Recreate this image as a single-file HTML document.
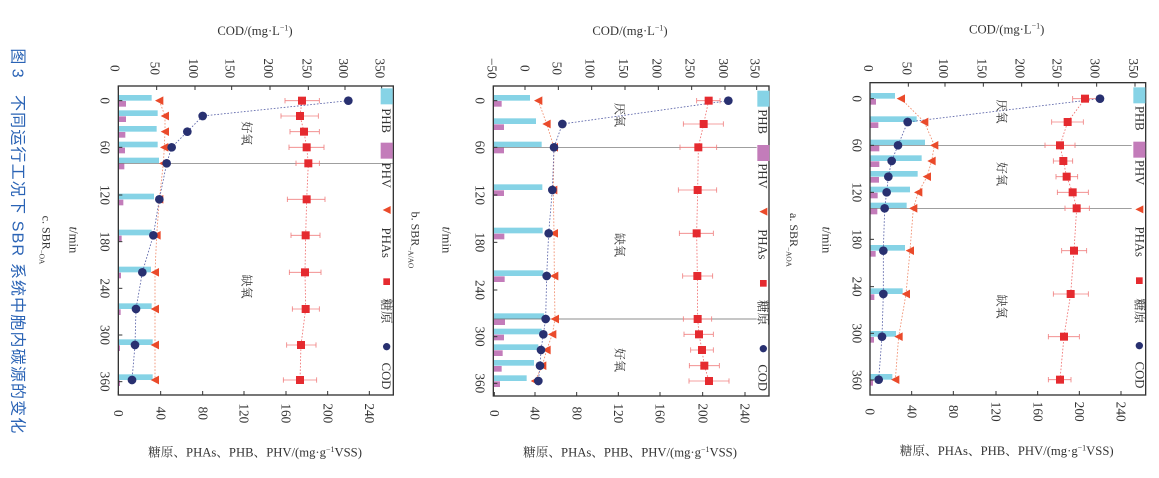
<!DOCTYPE html>
<html><head><meta charset="utf-8"><style>
html,body{margin:0;padding:0;background:#fff;}
svg{display:block;font-family:"Liberation Serif","Noto Serif CJK SC",serif;}
</style></head><body>
<svg id="s" width="1159" height="478" viewBox="0 0 1159 478" xmlns="http://www.w3.org/2000/svg">
<!-- Panel a -->
<g id="pa" transform="translate(780,0) scale(0.33333)" fill="#333" font-size="40">
<text x="680" y="100" text-anchor="middle" font-size="38">COD/(mg·L<tspan font-size="24" dy="-14">−1</tspan><tspan dy="14">)</tspan></text>
<text x="680" y="1365" text-anchor="middle" font-size="38">糖原、PHAs、PHB、PHV/(mg·g<tspan font-size="24" dy="-14">−1</tspan><tspan dy="14">VSS)</tspan></text>
<g text-anchor="middle">
<text transform="translate(252,205) rotate(90)">0</text><text transform="translate(367,205) rotate(90)">50</text><text transform="translate(477,205) rotate(90)">100</text><text transform="translate(592,205) rotate(90)">150</text><text transform="translate(707,205) rotate(90)">200</text><text transform="translate(817,205) rotate(90)">250</text><text transform="translate(932,205) rotate(90)">300</text><text transform="translate(1047,205) rotate(90)">350</text>
<text transform="translate(257,1235) rotate(90)">0</text><text transform="translate(382,1235) rotate(90)">40</text><text transform="translate(507,1235) rotate(90)">80</text><text transform="translate(635,1235) rotate(90)">120</text><text transform="translate(760,1235) rotate(90)">160</text><text transform="translate(885,1235) rotate(90)">200</text><text transform="translate(1010,1235) rotate(90)">240</text>
<text transform="translate(217,296) rotate(90)">0</text><text transform="translate(217,436) rotate(90)">60</text><text transform="translate(217,577) rotate(90)">120</text><text transform="translate(217,718) rotate(90)">180</text><text transform="translate(217,860) rotate(90)">240</text><text transform="translate(217,1000) rotate(90)">300</text><text transform="translate(217,1140) rotate(90)">360</text>
<text transform="translate(128,720) rotate(90)" font-size="38"><tspan font-style="italic">t</tspan>/min</text>
<text transform="translate(30,720) rotate(90)" font-size="36">a. SBR<tspan font-size="22" dy="10">−AOA</tspan></text>
<text transform="translate(652,335) rotate(90)" font-size="36">厌氧</text>
<text transform="translate(652,522) rotate(90)" font-size="36">好氧</text>
<text transform="translate(652,920) rotate(90)" font-size="36">缺氧</text>
</g>
<g text-anchor="start" font-size="38">
<text transform="translate(1066,318) rotate(90)">PHB</text><text transform="translate(1066,480) rotate(90)">PHV</text><text transform="translate(1066,680) rotate(90)">PHAs</text><text transform="translate(1066,895) rotate(90)">糖原</text><text transform="translate(1066,1085) rotate(90)">COD</text>
</g>
</g>
<!-- Panel b -->
<g id="pb" transform="translate(400,0) scale(0.33333)" fill="#333" font-size="40">
<text x="690" y="105" text-anchor="middle" font-size="38">COD/(mg·L<tspan font-size="24" dy="-14">−1</tspan><tspan dy="14">)</tspan></text>
<text x="690" y="1370" text-anchor="middle" font-size="38">糖原、PHAs、PHB、PHV/(mg·g<tspan font-size="24" dy="-14">−1</tspan><tspan dy="14">VSS)</tspan></text>
<g text-anchor="middle">
<text transform="translate(262,205) rotate(90)">−50</text><text transform="translate(362,205) rotate(90)">0</text><text transform="translate(457,205) rotate(90)">50</text><text transform="translate(557,205) rotate(90)">100</text><text transform="translate(657,205) rotate(90)">150</text><text transform="translate(757,205) rotate(90)">200</text><text transform="translate(857,205) rotate(90)">250</text><text transform="translate(957,205) rotate(90)">300</text><text transform="translate(1052,205) rotate(90)">350</text>
<text transform="translate(270,1240) rotate(90)">0</text><text transform="translate(392,1240) rotate(90)">40</text><text transform="translate(517,1240) rotate(90)">80</text><text transform="translate(642,1240) rotate(90)">120</text><text transform="translate(767,1240) rotate(90)">160</text><text transform="translate(895,1240) rotate(90)">200</text><text transform="translate(1022,1240) rotate(90)">240</text>
<text transform="translate(227,302) rotate(90)">0</text><text transform="translate(227,442) rotate(90)">60</text><text transform="translate(227,585) rotate(90)">120</text><text transform="translate(227,727) rotate(90)">180</text><text transform="translate(227,870) rotate(90)">240</text><text transform="translate(227,1010) rotate(90)">300</text><text transform="translate(227,1150) rotate(90)">360</text>
<text transform="translate(128,720) rotate(90)" font-size="38"><tspan font-style="italic">t</tspan>/min</text>
<text transform="translate(35,720) rotate(90)" font-size="36">b. SBR<tspan font-size="22" dy="10">−A/AO</tspan></text>
<text transform="translate(647,345) rotate(90)" font-size="36">厌氧</text>
<text transform="translate(647,735) rotate(90)" font-size="36">缺氧</text>
<text transform="translate(647,1080) rotate(90)" font-size="36">好氧</text>
</g>
<g text-anchor="start" font-size="38">
<text transform="translate(1076,328) rotate(90)">PHB</text><text transform="translate(1076,490) rotate(90)">PHV</text><text transform="translate(1076,688) rotate(90)">PHAs</text><text transform="translate(1076,900) rotate(90)">糖原</text><text transform="translate(1076,1093) rotate(90)">COD</text>
</g>
</g>
<!-- Panel c -->
<g id="pc" transform="translate(0,0) scale(0.33333)" fill="#333" font-size="40">
<text x="765" y="105" text-anchor="middle" font-size="38">COD/(mg·L<tspan font-size="24" dy="-14">−1</tspan><tspan dy="14">)</tspan></text>
<text x="765" y="1370" text-anchor="middle" font-size="38">糖原、PHAs、PHB、PHV/(mg·g<tspan font-size="24" dy="-14">−1</tspan><tspan dy="14">VSS)</tspan></text>
<g text-anchor="middle">
<text transform="translate(332,205) rotate(90)">0</text><text transform="translate(452,205) rotate(90)">50</text><text transform="translate(567,205) rotate(90)">100</text><text transform="translate(677,205) rotate(90)">150</text><text transform="translate(792,205) rotate(90)">200</text><text transform="translate(907,205) rotate(90)">250</text><text transform="translate(1017,205) rotate(90)">300</text><text transform="translate(1127,205) rotate(90)">350</text>
<text transform="translate(342,1240) rotate(90)">0</text><text transform="translate(469,1240) rotate(90)">40</text><text transform="translate(595,1240) rotate(90)">80</text><text transform="translate(719,1240) rotate(90)">120</text><text transform="translate(845,1240) rotate(90)">160</text><text transform="translate(970,1240) rotate(90)">200</text><text transform="translate(1095,1240) rotate(90)">240</text>
<text transform="translate(302,302) rotate(90)">0</text><text transform="translate(302,442) rotate(90)">60</text><text transform="translate(302,585) rotate(90)">120</text><text transform="translate(302,725) rotate(90)">180</text><text transform="translate(302,865) rotate(90)">240</text><text transform="translate(302,1005) rotate(90)">300</text><text transform="translate(302,1145) rotate(90)">360</text>
<text transform="translate(208,720) rotate(90)" font-size="38"><tspan font-style="italic">t</tspan>/min</text>
<text transform="translate(128,720) rotate(90)" font-size="36">c. SBR<tspan font-size="22" dy="10">−OA</tspan></text>
<text transform="translate(727,400) rotate(90)" font-size="36">好氧</text>
<text transform="translate(727,860) rotate(90)" font-size="36">缺氧</text>
</g>
<g text-anchor="start" font-size="38">
<text transform="translate(1146,325) rotate(90)">PHB</text><text transform="translate(1146,488) rotate(90)">PHV</text><text transform="translate(1146,683) rotate(90)">PHAs</text><text transform="translate(1146,895) rotate(90)">糖原</text><text transform="translate(1146,1088) rotate(90)">COD</text>
</g>
<g font-family="'Liberation Sans','Noto Sans CJK SC',sans-serif" font-size="48" fill="#2a63b5">
<text transform="translate(38,145) rotate(90)">图 3</text>
<text transform="translate(38,285) rotate(90)" textLength="1015" lengthAdjust="spacing">不同运行工况下 SBR 系统中胞内碳源的变化</text>
</g>
</g>
</svg>
<script>
var NS="http://www.w3.org/2000/svg";
function el(p,t,a){var e=document.createElementNS(NS,t);for(var k in a)e.setAttribute(k,a[k]);p.appendChild(e);return e;}
var P={
pa:{f:[270,248,1097,1185],lx:1078,legY:[262,425,628,842,1037],ys:[296,366,436,483,530,577,625,752,882,1010,1139],
phb:[345,410,435,425,413,390,380,375,368,348,337],phv:[288,295,298,298,297,293,292,287,283,282,279],
tri:[363,433,463,455,441,415,400,390,378,356,346],cod:[960,383,354,335,325,320,314,310,310,306,296],
gl:[[915,878,950],[863,815,910],[840,795,885],[850,820,878],[860,828,893],[878,832,925],[890,855,928],[882,845,920],[872,820,925],[852,805,898],[840,805,873]],
vl:[436,625],vle:1055,yt:[296,436,577,718,860,1000,1140],xt:[270,395,520,648,773,898,1023],ct:[270,385,495,610,725,835,950,1065]},
pb:{f:[280,258,1107,1188],lx:1090,legY:[272,435,635,850,1046],ys:[302,372,442,570,700,828,957,1003,1050,1097,1143],
phb:[390,408,425,427,428,430,432,425,415,402,380],phv:[305,312,312,312,313,314,315,312,308,305,300],
tri:[415,440,462,460,462,463,465,457,440,427,405],cod:[985,487,462,457,446,440,437,430,423,420,415],
gl:[[926,890,960],[911,850,970],[895,840,950],[893,835,950],[890,838,940],[892,848,938],[893,850,935],[897,852,940],[906,872,940],[913,868,958],[927,867,987]],
vl:[442,957],vle:1070,yt:[302,442,585,727,870,1010,1150],xt:[283,405,530,655,780,908,1035],ct:[280,375,475,575,675,775,875,975,1070]},
pc:{f:[355,258,1180,1185],lx:1160,legY:[265,428,630,845,1040],ys:[302,348,395,442,490,598,706,817,927,1035,1140],
phb:[455,473,470,473,477,462,455,453,455,458,458],phv:[378,378,376,375,373,370,365,363,362,360,360],
tri:[478,495,495,493,490,478,470,465,465,465,465],cod:[1045,608,562,515,500,478,460,427,408,405,396],
gl:[[906,855,958],[900,843,955],[912,870,958],[920,867,972],[925,888,958],[920,862,975],[917,873,960],[915,868,963],[917,877,958],[903,860,948],[900,850,950]],
vl:[490],vle:1180,yt:[302,442,585,725,865,1005,1145],xt:[355,482,608,732,858,983,1108],ct:[355,470,585,695,810,925,1035,1145]}};
for(var id in P){var d=P[id],g=document.getElementById(id),f=d.f,x0=f[0];
 var sh=el(g,'g',{});
 for(var i=0;i<d.ys.length;i++){var y=d.ys[i];
  el(sh,'rect',{x:x0,y:y-17,width:d.phb[i]-x0,height:17,fill:'#86d3e6'});
  el(sh,'rect',{x:x0,y:y+1,width:d.phv[i]-x0,height:17,fill:'#c37cba'});}
 d.vl.forEach(function(v){el(sh,'line',{x1:x0,y1:v,x2:d.vle,y2:v,stroke:'#666','stroke-width':2});});
 function pl(xs,c){var s='';for(var i=0;i<xs.length;i++)s+=(i?' L':'M')+xs[i]+','+d.ys[i];el(sh,'path',{d:s,fill:'none',stroke:c,'stroke-width':2.5,'stroke-dasharray':'5,5'});}
 pl(d.tri,'#f08a6a');pl(d.gl.map(function(a){return a[0];}),'#f07070');pl(d.cod,'#5a63a8');
 for(var i=0;i<d.ys.length;i++){var y=d.ys[i],q=d.gl[i];
  el(sh,'line',{x1:q[1],y1:y,x2:q[2],y2:y,stroke:'#f08080','stroke-width':2.5});
  el(sh,'line',{x1:q[1],y1:y-8,x2:q[1],y2:y+8,stroke:'#f08080','stroke-width':2.5});
  el(sh,'line',{x1:q[2],y1:y-8,x2:q[2],y2:y+8,stroke:'#f08080','stroke-width':2.5});
  el(sh,'rect',{x:q[0]-12,y:y-12,width:24,height:24,fill:'#e52a2f'});
  var t=d.tri[i];el(sh,'polygon',{points:(t-13)+','+y+' '+(t+12)+','+(y-13)+' '+(t+12)+','+(y+13),fill:'#ea4a2a'});
  el(sh,'circle',{cx:d.cod[i],cy:y,r:13,fill:'#283070'});}
 el(sh,'rect',{x:f[0],y:f[1],width:f[2]-f[0],height:f[3]-f[1],fill:'none',stroke:'#333','stroke-width':4});
 d.yt.forEach(function(v){el(sh,'line',{x1:x0,y1:v,x2:x0+12,y2:v,stroke:'#333','stroke-width':3});});
 d.xt.forEach(function(v){el(sh,'line',{x1:v,y1:f[3],x2:v,y2:f[3]-12,stroke:'#333','stroke-width':3});});
 d.ct.forEach(function(v){el(sh,'line',{x1:v,y1:f[1],x2:v,y2:f[1]+12,stroke:'#333','stroke-width':3});});
 var lx=d.lx,L=d.legY;
 el(sh,'rect',{x:lx-18,y:L[0],width:36,height:48,fill:'#86d3e6'});
 el(sh,'rect',{x:lx-18,y:L[1],width:36,height:48,fill:'#c37cba'});
 el(sh,'polygon',{points:(lx-12)+','+L[2]+' '+(lx+12)+','+(L[2]-12)+' '+(lx+12)+','+(L[2]+12),fill:'#ea4a2a'});
 el(sh,'rect',{x:lx-10,y:L[3]-10,width:20,height:20,fill:'#e52a2f'});
 el(sh,'circle',{cx:lx,cy:L[4],r:11,fill:'#283070'});
 g.insertBefore(sh,g.firstChild);}
</script>
</body></html>
